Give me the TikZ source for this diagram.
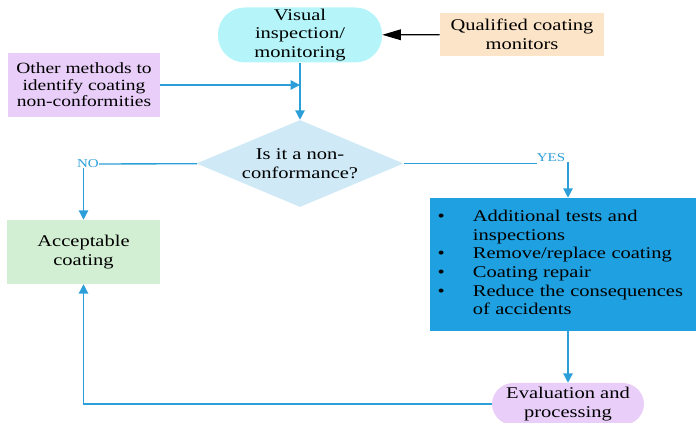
\documentclass[tikz,border=0pt]{standalone}
\usepackage{fontspec}
\setmainfont{Liberation Serif}[FakeStretch=1.25]
\usepackage{tikz}
\definecolor{color1}{HTML}{B5F5FA}
\definecolor{color2}{HTML}{FCE4C8}
\definecolor{color3}{HTML}{E8CEF8}
\definecolor{color4}{HTML}{CFE9F6}
\definecolor{color5}{HTML}{D3EFD3}
\definecolor{color6}{HTML}{1FA0E0}
\definecolor{color7}{HTML}{2D9FD8}
\usetikzlibrary{arrows.meta}
\usetikzlibrary{shapes.geometric}
\newcommand{\px}{0.75pt}
\tikzset{
  flow line/.style={draw=color7, line width=1pt},
  flow arrow/.style={flow line, -{Triangle[width=7pt,length=7pt]}},
  box label/.style={align=center, inner sep=0, font=\fontsize{12.3pt}{14pt}\selectfont},
  branch label/.style={inner sep=0, text=color7, font=\fontsize{9pt}{10pt}\selectfont}
}

\begin{document}
\begin{tikzpicture}[x=\px, y=-\px]
\useasboundingbox (0,0) rectangle (696,423);

\node[box label, fill=color1, rounded corners=20pt, minimum width=164*\px, minimum height=55*\px] (visual) at (300,35) {Visual\\ inspection/\\ monitoring};

\node[box label, fill=color2, minimum width=164*\px, minimum height=43*\px] (monitors) at (522,34.5) {Qualified coating\\ monitors};

\node[box label, fill=color3, minimum width=152*\px, minimum height=64*\px, font=\fontsize{11.7pt}{12.5pt}\selectfont] (other) at (84,85) {Other methods to\\ identify coating\\ non-conformities};

\node[box label, fill=color4, diamond, aspect=2.4, minimum width=207*\px, minimum height=87*\px] (decision) at (300,163.5) {Is it a non-\\ conformance?};

\node[box label, fill=color5, minimum width=153*\px, minimum height=64*\px] (accept) at (83.5,252) {Acceptable\\ coating};

\node[box label, fill=color6, align=left, text width=259*\px, minimum width=267*\px, minimum height=133*\px] (actions) at (563,264.5) {%
\begin{tabular}{@{\hspace{3pt}}p{26.5pt}@{}l@{}}
\textbullet & Additional tests and\\
 & inspections\\
\textbullet & Remove/replace coating\\
\textbullet & Coating repair\\
\textbullet & Reduce the consequences\\
 & of accidents
\end{tabular}};

\node[box label, fill=color3, rounded corners=16pt, minimum width=152*\px, minimum height=42*\px] (eval) at (568,404) {Evaluation and\\ processing};

\node[branch label] (no) at (88,164) {NO};
\node[branch label] (yes) at (551,157.5) {YES};

% connectors
\draw[line width=1pt, -{Triangle[width=8pt,length=14pt]}] (monitors) -- (visual);
\draw[flow arrow] (visual) -- (decision);
\draw[flow arrow] (other) -- (other -| visual);

\draw[flow line] (decision) -- (no);
\draw[flow arrow] (no.south -| accept) -- (accept);

\draw[flow line] (decision) -- (decision -| yes.west);
\draw[flow arrow] (yes.south -| eval) -- (actions.north -| eval);

\draw[flow arrow] (actions.south -| eval) -- (eval);
\draw[flow arrow] (eval) -| (accept);

\end{tikzpicture}
\end{document}
